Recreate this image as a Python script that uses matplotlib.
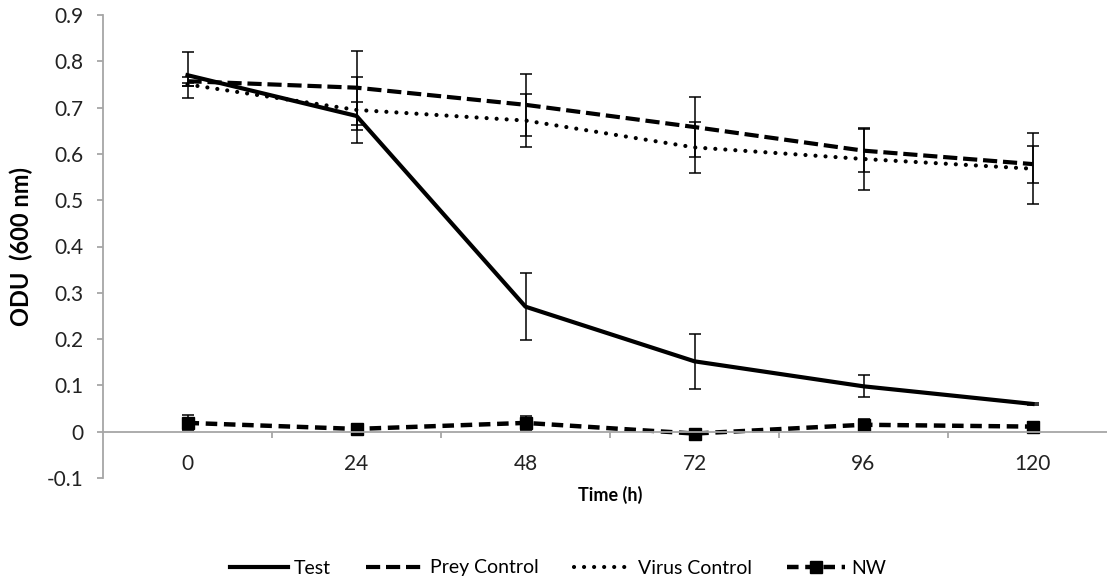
import numpy as np
from matplotlib import pyplot as plt
from matplotlib.lines import Line2D

time_h = ['0', '24', '48', '72', '96', '120']
test = [0.770, 0.682, 0.270, 0.152, 0.098, 0.060]
test_err = [0.050, 0.030, 0.072, 0.060, 0.024, 0.003]
prey = [0.757, 0.743, 0.706, 0.658, 0.607, 0.578]
prey_err = [0.010, 0.080, 0.067, 0.065, 0.047, 0.040]
virus = [0.750, 0.695, 0.672, 0.614, 0.589, 0.568]
virus_err = [0.004, 0.071, 0.058, 0.055, 0.067, 0.077]
nw = [0.019, 0.006, 0.019, -0.004, 0.015, 0.011]
nw_err = [0.016, 0.005, 0.015, 0.006, 0.012, 0.010]
yticks = [-0.1, 0, 0.1, 0.2, 0.3, 0.4, 0.5, 0.6, 0.7, 0.8, 0.9]
ytick_labels = ['-0.1', '0', '0.1', '0.2', '0.3', '0.4', '0.5', '0.6', '0.7', '0.8', '0.9']

plt.rcParams['font.family'] = ['Lato', 'DejaVu Sans']

fig = plt.figure(figsize=(11.07, 5.86), dpi=100)
ax = fig.add_axes([103/1107, 1 - 478/586, 1014/1107, 463/586])

x = np.arange(len(time_h))
ebkw = dict(ecolor='black', elinewidth=1.1, capsize=4.5, capthick=1.1)

# line styles, shared by the plot and the legend
styles = {
    'Test': dict(color='black', lw=3.0),
    'Prey Control': dict(color='black', lw=3.0, dashes=(3.4, 1.4)),
    'Virus Control': dict(color='black', lw=3.0, dashes=(0.01, 2.4), dash_capstyle='round'),
    'NW': dict(color='black', lw=3.2, dashes=(2.6, 1.5), marker='s', markersize=8),
}

ax.errorbar(x, test, yerr=test_err, **styles['Test'], **ebkw)
ax.errorbar(x, prey, yerr=prey_err, **styles['Prey Control'], **ebkw)
ax.errorbar(x, virus, yerr=virus_err, **styles['Virus Control'], **ebkw)
ax.errorbar(x, nw, yerr=nw_err, **styles['NW'], **ebkw)

ax.set_xlim(-0.5, 5.5)
ax.set_ylim(-0.1, 0.9)
ax.set_yticks(yticks)
ax.set_yticklabels(ytick_labels)
ax.set_xticks(x)
ax.set_xticklabels(time_h)
ax.set_xticks(x[:-1] + 0.5, minor=True)

gray = '#a6a6a6'
for s in ['top', 'right']:
    ax.spines[s].set_visible(False)
ax.spines['left'].set_color(gray)
ax.spines['left'].set_linewidth(1.3)
ax.spines['bottom'].set_position(('data', 0))
ax.spines['bottom'].set_color(gray)
ax.spines['bottom'].set_linewidth(1.3)
ax.tick_params(axis='y', direction='out', length=4, width=1.3, color=gray, pad=10,
               labelsize=15, labelcolor='#222222')
ax.tick_params(axis='x', which='major', length=0, pad=16, labelsize=15,
               labelcolor='#222222')
ax.tick_params(axis='x', which='minor', direction='out', length=4, width=1.3, color=gray)

ax.set_ylabel('ODU  (600 nm)', fontsize=17, fontweight='bold', labelpad=10)
fig.text(610/1107, 1 - 495/586, 'Time (h)', fontsize=13, fontweight='bold',
         ha='center', va='center')

handles = [Line2D([], [], **st) for st in styles.values()]
ax.legend(handles, list(styles.keys()), loc='center',
          bbox_to_anchor=(558/1107, 1 - 568/586), bbox_transform=fig.transFigure,
          ncol=4, frameon=False, fontsize=14, handlelength=3.0,
          handletextpad=0.3, columnspacing=1.8)

fig.savefig('out.png', dpi=100)
